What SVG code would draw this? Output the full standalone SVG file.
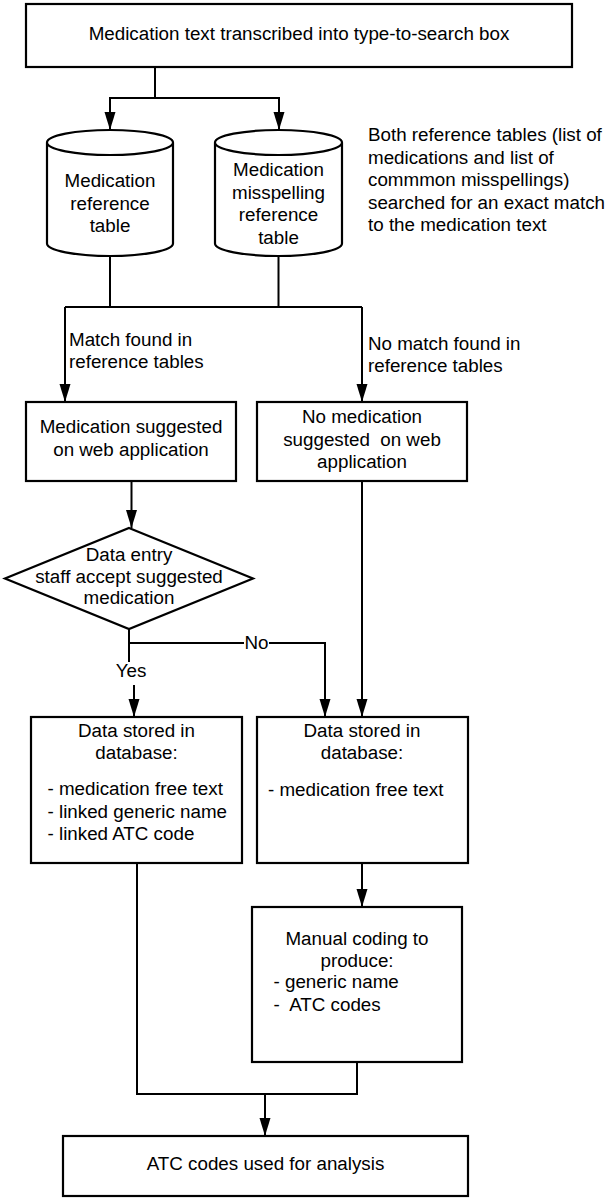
<svg xmlns="http://www.w3.org/2000/svg" width="607" height="1200" viewBox="0 0 607 1200">
<style>
.box{fill:#fff;stroke:#000;stroke-width:2.2}
.ln{fill:none;stroke:#000;stroke-width:2}
text{font-family:"Liberation Sans",Arial,sans-serif;font-size:18.8px;fill:#000}
.c{text-anchor:middle}
</style>
<defs>
<marker id="ah" markerUnits="userSpaceOnUse" markerWidth="18" markerHeight="12" refX="18" refY="6" orient="auto">
<path d="M0,0.5 L18,6 L0,11.5 z" fill="#000"/>
</marker>
</defs>
<rect width="607" height="1200" fill="#fff"/>
<g id="connectors">
<path class="ln" d="M155,67 V98 H110 V130" marker-end="url(#ah)"/>
<path class="ln" d="M155,98 H279 V130" marker-end="url(#ah)"/>
<path class="ln" d="M110,256 V307"/>
<path class="ln" d="M278.5,256 V307"/>
<path class="ln" d="M65,307 H362"/>
<path class="ln" d="M65,307 V402" marker-end="url(#ah)"/>
<path class="ln" d="M362,307 V402" marker-end="url(#ah)"/>
<path class="ln" d="M131.5,481 V528" marker-end="url(#ah)"/>
<path class="ln" d="M129,629 V662"/>
<path class="ln" d="M134,685 V717" marker-end="url(#ah)"/>
<path class="ln" d="M129,643 H325 V717" marker-end="url(#ah)"/>
<path class="ln" d="M362,481 V717" marker-end="url(#ah)"/>
<path class="ln" d="M137,863 V1094 H357 V1062"/>
<path class="ln" d="M362,863 V907" marker-end="url(#ah)"/>
<path class="ln" d="M265,1094 V1136" marker-end="url(#ah)"/>
<rect x="244" y="633" width="25" height="20" fill="#fff"/>
<text class="c" x="256.5" y="649">No</text>
<text class="c" x="131" y="677">Yes</text>
<text x="69" y="346">Match found in</text>
<text x="69" y="368">reference tables</text>
<text x="368" y="350">No match found in</text>
<text x="368" y="372">reference tables</text>
</g>
<g id="start">
<rect class="box" x="26" y="4" width="546" height="63"/>
<text class="c" x="299" y="40">Medication text transcribed into type-to-search box</text>
</g>
<g id="medref">
<path class="box" d="M47,142.5 V243.5 A63,12.5 0 0 0 173,243.5 V142.5 A63,12.5 0 0 0 47,142.5 A63,12.5 0 0 0 173,142.5"/>
<text class="c" x="110" y="187">Medication</text>
<text class="c" x="110" y="209.5">reference</text>
<text class="c" x="110" y="232">table</text>
</g>
<g id="missref">
<path class="box" d="M215,142.5 V243.5 A63.5,12.5 0 0 0 342,243.5 V142.5 A63.5,12.5 0 0 0 215,142.5 A63.5,12.5 0 0 0 342,142.5"/>
<text class="c" x="278.5" y="176">Medication</text>
<text class="c" x="278.5" y="198.5">misspelling</text>
<text class="c" x="278.5" y="221">reference</text>
<text class="c" x="278.5" y="243.5">table</text>
</g>
<g id="note">
<text x="368" y="141">Both reference tables (list of</text>
<text x="368" y="163.5">medications and list of</text>
<text x="368" y="186">commmon misspellings)</text>
<text x="368" y="208.5">searched for an exact match</text>
<text x="368" y="231">to the medication text</text>
</g>
<g id="suggested">
<rect class="box" x="26" y="402" width="210" height="79"/>
<text class="c" x="131" y="433">Medication suggested</text>
<text class="c" x="131" y="456">on web application</text>
</g>
<g id="notsuggested">
<rect class="box" x="257" y="402" width="210" height="79"/>
<text class="c" x="362" y="423">No medication</text>
<text class="c" x="362" y="446" xml:space="preserve">suggested  on web</text>
<text class="c" x="362" y="468">application</text>
</g>
<g id="decision">
<path class="box" d="M129,528 L253,578.5 L129,629 L5,578.5 Z"/>
<text class="c" x="129" y="561">Data entry</text>
<text class="c" x="129" y="583">staff accept suggested</text>
<text class="c" x="129" y="604">medication</text>
</g>
<g id="storedlinked">
<rect class="box" x="31" y="717" width="211" height="146"/>
<text class="c" x="136.5" y="737">Data stored in</text>
<text class="c" x="136.5" y="759">database:</text>
<text x="47.5" y="795">- medication free text</text>
<text x="47.5" y="818">- linked generic name</text>
<text x="47.5" y="840">- linked ATC code</text>
</g>
<g id="storedfree">
<rect class="box" x="257" y="717" width="211" height="146"/>
<text class="c" x="362" y="737">Data stored in</text>
<text class="c" x="362" y="759">database:</text>
<text x="268" y="796">- medication free text</text>
</g>
<g id="manual">
<rect class="box" x="252" y="907" width="210" height="155"/>
<text class="c" x="357" y="945">Manual coding to</text>
<text class="c" x="357" y="967">produce:</text>
<text x="273.5" y="988">- generic name</text>
<text x="273.5" y="1011" xml:space="preserve">-  ATC codes</text>
</g>
<g id="analysis">
<rect class="box" x="63" y="1136" width="405" height="60"/>
<text class="c" x="265.5" y="1170">ATC codes used for analysis</text>
</g>
</svg>
